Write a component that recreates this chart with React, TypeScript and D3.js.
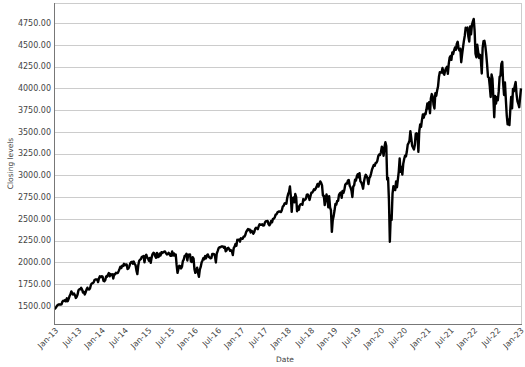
import React from "react";
import * as d3 from "d3";

// Weekly (Friday) S&P 500 closing levels, one array per year
const close2013 = [1466,1472,1486,1503,1513,1518,1519,1515,1518,1551,1560,1556,1569,1553,1588,1555,1582,1614,1633,1667,1649,1631,1643,1626,1592,1606,1631,1680,1692,1691,1709,1691,1655,1664,1633,1655,1688,1710,1691,1690,1703,1744,1759,1762,1771,1798,1804,1806,1805,1775,1818,1841];
const close2014 = [1831,1842,1838,1790,1783,1797,1838,1836,1859,1878,1841,1866,1857,1865,1815,1864,1863,1881,1878,1878,1900,1924,1950,1936,1963,1960,1985,1968,1978,1978,1925,1931,1955,1988,2003,2007,1985,2010,1982,1968,1906,1866,1964,2018,2032,2039,2064,2068,2075,2002,2071,2089];
const close2015 = [2058,2045,2019,2051,1995,2055,2096,2110,2104,2071,2053,2108,2061,2067,2102,2081,2117,2108,2116,2123,2126,2107,2092,2094,2110,2101,2077,2077,2126,2079,2104,2078,2092,1971,1880,1921,1961,1958,1931,1951,2015,2033,2075,2079,2099,2023,2089,2090,2092,2012,2006,2061];
const close2016 = [2044,1922,1880,1907,1940,1880,1835,1918,1948,2000,2022,2050,2036,2073,2048,2081,2092,2065,2057,2047,2052,2099,2099,2096,2071,2000,2103,2130,2162,2175,2173,2183,2184,2184,2169,2180,2128,2139,2165,2168,2153,2133,2141,2126,2085,2164,2182,2213,2192,2260,2258,2264,2239];
const close2017 = [2277,2275,2271,2295,2297,2316,2351,2367,2383,2372,2378,2344,2363,2355,2329,2348,2384,2399,2391,2382,2416,2439,2432,2433,2438,2423,2425,2459,2473,2472,2477,2441,2426,2443,2477,2461,2500,2502,2519,2549,2553,2575,2581,2587,2582,2579,2602,2642,2652,2676,2683,2674];
const close2018 = [2743,2786,2810,2873,2762,2581,2732,2747,2691,2786,2752,2588,2641,2604,2656,2670,2670,2663,2728,2713,2721,2735,2779,2780,2755,2718,2760,2801,2802,2819,2840,2833,2850,2875,2902,2872,2905,2930,2914,2885,2767,2768,2658,2723,2781,2736,2633,2760,2633,2599,2351,2485];
const close2019 = [2532,2596,2671,2665,2707,2708,2776,2793,2804,2743,2822,2800,2834,2893,2907,2905,2940,2946,2881,2860,2826,2752,2873,2887,2950,2942,2990,3014,2977,3026,2932,2919,2889,2847,2926,2979,3007,2992,2962,2900,2970,2986,3023,3067,3093,3120,3110,3141,3146,3169,3221,3240];
const close2020 = [3235,3265,3330,3295,3226,3328,3380,3338,2954,2972,2711,2237,2541,2489,2790,2875,2837,2831,2930,2864,2955,3044,3194,3041,3098,3009,3130,3185,3225,3216,3271,3351,3373,3397,3508,3427,3341,3319,3298,3348,3477,3484,3465,3270,3510,3585,3558,3638,3699,3663,3709,3703];
const close2021 = [3756,3825,3768,3841,3714,3887,3934,3907,3811,3768,3943,3913,3975,4020,4129,4185,4180,4181,4233,4174,4156,4204,4230,4247,4166,4281,4352,4370,4327,4412,4395,4437,4468,4442,4509,4535,4459,4433,4455,4300,4391,4471,4545,4605,4697,4683,4698,4595,4538,4712,4620,4726,4766];
const close2022 = [4797,4663,4398,4356,4500,4419,4349,4385,4329,4170,4463,4543,4546,4488,4393,4272,4132,4123,4024,3901,4158,4109,3901,3667,3912,3825,3899,3863,3962,4130,4145,4280,4305,4058,3924,4067,3873,3693,3586,3640,3577,3752,3901,3770,3993,3965,4027,4072,3934,3852,3822,3783];
const close2023 = [3895,3999];

const years = [2013,2014,2015,2016,2017,2018,2019,2020,2021,2022,2023];
const closesByYear = [close2013,close2014,close2015,close2016,close2017,close2018,close2019,close2020,close2021,close2022,close2023];

const yTicks = [1500,1750,2000,2250,2500,2750,3000,3250,3500,3750,4000,4250,4500,4750];
const xTickLabels = ["Jan-13","Jul-13","Jan-14","Jul-14","Jan-15","Jul-15","Jan-16","Jul-16","Jan-17","Jul-17","Jan-18","Jul-18","Jan-19","Jul-19","Jan-20","Jul-20","Jan-21","Jul-21","Jan-22","Jul-22","Jan-23"];
const yTitle = "Closing levels";
const xTitle = "Date";

type Pt = { date: Date; value: number };
const data: Pt[] = [];
years.forEach((y, i) => {
  const fridays = d3.timeFriday.range(new Date(y, 0, 1), new Date(y + 1, 0, 1));
  closesByYear[i].forEach((v, j) => {
    if (j < fridays.length) data.push({ date: fridays[j], value: v });
  });
});

const W = 525, H = 367;
const L = 54, R = 521, T = 3, B = 324;

export default function App() {
  const x = d3.scaleTime()
    .domain([new Date(2013, 0, 1), d3.max(data, d => d.date) as Date])
    .range([L, R]);
  const y = d3.scaleLinear().domain([1293, 4980]).range([B, T]);
  const tickDates = xTickLabels.map((_, i) => new Date(2013 + Math.floor(i / 2), (i % 2) * 6, 1));
  const line = d3.line<Pt>().x(d => x(d.date)).y(d => y(d.value)).curve(d3.curveLinear);
  const font = "DejaVu Sans, Verdana, sans-serif";
  return (
    <svg width={W} height={H} style={{ position: "absolute", left: 0, top: 0, background: "#fff" }} fontFamily={font}>
      <rect x={0} y={0} width={W} height={H} fill="#fff" />
      {yTicks.map(t => (
        <line key={t} x1={L} x2={R} y1={Math.round(y(t)) + 0.5} y2={Math.round(y(t)) + 0.5} stroke="#cccccc" strokeWidth={1} />
      ))}
      <line x1={L} x2={R} y1={T + 0.5} y2={T + 0.5} stroke="#cccccc" />
      <line x1={R + 0.5} x2={R + 0.5} y1={T} y2={B} stroke="#cccccc" />
      <path d={line(data) || ""} fill="none" stroke="#000" strokeWidth={2.4} strokeLinejoin="round" />
      <line x1={L + 0.5} x2={L + 0.5} y1={T} y2={B} stroke="#777" />
      <line x1={L} x2={R + 1} y1={B + 0.5} y2={B + 0.5} stroke="#777" />
      {yTicks.map(t => (
        <text key={t} x={51} y={y(t)} dy="0.35em" textAnchor="end" fontSize={8} fill="#444">{t.toFixed(2)}</text>
      ))}
      {xTickLabels.map((lab, i) => (
        <text key={lab} transform={`translate(${x(tickDates[i]) + 1},${B + 3}) rotate(-45)`} textAnchor="end" dy="0.7em" fontSize={8} fill="#444">{lab}</text>
      ))}
      <text x={285} y={362} textAnchor="middle" fontSize={7.5} fill="#444">{xTitle}</text>
      <text transform={`translate(13,${(T + B) / 2}) rotate(-90)`} textAnchor="middle" fontSize={7.5} fill="#444">{yTitle}</text>
    </svg>
  );
}
